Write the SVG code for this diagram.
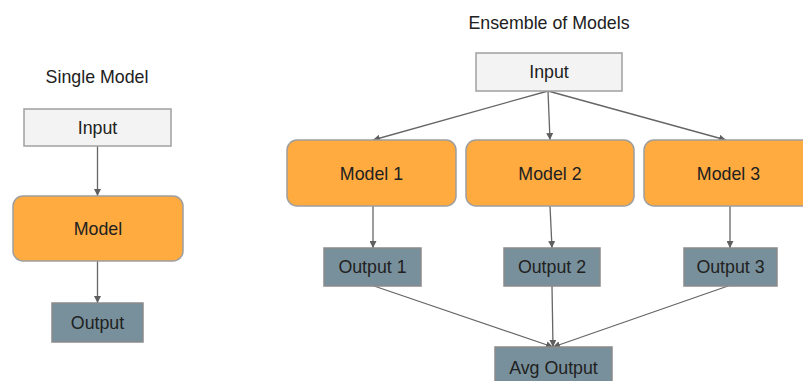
<svg xmlns="http://www.w3.org/2000/svg" width="803" height="381" viewBox="0 0 803 381">
<defs>
<marker id="ah" viewBox="0 0 10 10" refX="10" refY="5" markerWidth="7" markerHeight="7" markerUnits="userSpaceOnUse" orient="auto">
<path d="M0,0 L10,5 L0,10 z" fill="#5f5f5f"/>
</marker>
<style>
text{font-family:"Liberation Sans",Arial,sans-serif;font-size:17.8px;fill:#212121;text-anchor:middle}
.in{fill:#f3f3f3;stroke:#a0a0a0;stroke-width:1.5}
.md{fill:#ffab40;stroke:#9e9e9e;stroke-width:1.5}
.out{fill:#78909c;stroke:#8a8a8a;stroke-width:1.5}
.c line{stroke:#666;stroke-width:1.3;marker-end:url(#ah)}
</style>
</defs>
<rect width="803" height="381" fill="#fff"/>
<text x="97" y="83">Single Model</text>
<text x="549" y="29">Ensemble of Models</text>
<g class="c">
<line x1="97.5" y1="146" x2="97.5" y2="196"/>
<line x1="97.5" y1="261" x2="97.5" y2="303"/>
<line x1="548" y1="91" x2="373" y2="140"/>
<line x1="548" y1="91" x2="550" y2="140"/>
<line x1="548" y1="91" x2="726" y2="140"/>
<line x1="373" y1="206" x2="373" y2="248"/>
<line x1="550" y1="206" x2="552" y2="248"/>
<line x1="730" y1="206" x2="730" y2="248"/>
<line x1="374" y1="286" x2="553" y2="347"/>
<line x1="552" y1="286" x2="553" y2="347"/>
<line x1="728" y1="286" x2="553" y2="347"/>
</g>
<g id="s-input"><rect class="in" x="24" y="109" width="147" height="37"/><text x="97.5" y="134">Input</text></g>
<g id="s-model"><rect class="md" x="13" y="196" width="170" height="65" rx="10"/><text x="98" y="235">Model</text></g>
<g id="s-output"><rect class="out" x="52" y="303" width="91" height="39"/><text x="97.5" y="329">Output</text></g>
<g id="e-input"><rect class="in" x="476" y="53" width="146" height="38"/><text x="549" y="78">Input</text></g>
<g id="model1"><rect class="md" x="287" y="140" width="169" height="66" rx="10"/><text x="371.5" y="180">Model 1</text></g>
<g id="model2"><rect class="md" x="466" y="140" width="168" height="66" rx="10"/><text x="550" y="180">Model 2</text></g>
<g id="model3"><rect class="md" x="644" y="140" width="169" height="66" rx="10"/><text x="728.5" y="180">Model 3</text></g>
<g id="output1"><rect class="out" x="324" y="248" width="97" height="38"/><text x="372.5" y="273">Output 1</text></g>
<g id="output2"><rect class="out" x="504" y="248" width="96" height="38"/><text x="552" y="273">Output 2</text></g>
<g id="output3"><rect class="out" x="684" y="248" width="93" height="38"/><text x="730.5" y="273">Output 3</text></g>
<g id="avg"><rect class="out" x="495" y="347" width="117" height="44"/><text x="553.5" y="374">Avg Output</text></g>
</svg>
